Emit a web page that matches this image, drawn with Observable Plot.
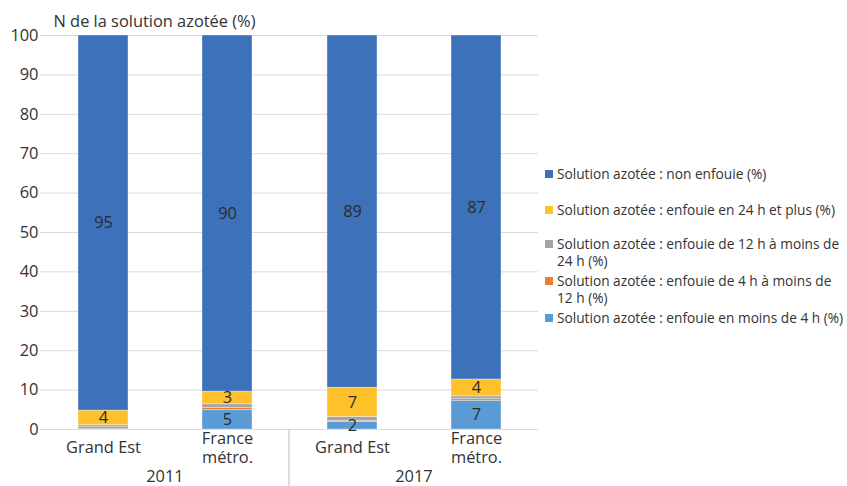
<!DOCTYPE html>
<html>
<head>
<meta charset="utf-8">
<script src="https://cdn.jsdelivr.net/npm/d3@7"></script>
<script src="https://cdn.jsdelivr.net/npm/@observablehq/plot@0.6"></script>
<style>
  body { margin: 0; background: #fff; }
  #wrap { position: relative; width: 847px; height: 486px; font-family: "Open Sans", sans-serif; color: #333; }
  .leg { position: absolute; left: 545px; width: 304px; font-size: 13.7px; line-height: 16.5px; color: #333; }
  .leg .sw { position: absolute; left: 0; top: 4px; width: 8px; height: 8px; }
  .leg .tx { margin-left: 12px; }
</style>
</head>
<body>
<div id="wrap"></div>
<script>
const years = ["2011", "2011", "2017", "2017"];
const regions = ["Grand Est", "France métro.", "Grand Est", "France métro."];
const regionLabels = ["Grand Est", "France\nmétro."];
const yearDomain = ["2011", "2017"];
const regionDomain = ["Grand Est", "France métro."];
// bottom -> top
const seriesNames = [
  "Solution azotée : enfouie en moins de 4 h (%)",
  "Solution azotée : enfouie de 4 h à moins de 12 h (%)",
  "Solution azotée : enfouie de 12 h à moins de 24 h (%)",
  "Solution azotée : enfouie en 24 h et plus (%)",
  "Solution azotée : non enfouie (%)"
];
const seriesColors = ["#5B9BD5", "#ED7D31", "#A5A5A5", "#FFC12B", "#3D72BA"];
const moins4h   = [0.2, 4.9, 1.9, 7.3];
const h4a12     = [0.4, 0.6, 0.3, 0.4];
const h12a24    = [0.5, 0.9, 1.0, 0.7];
const h24plus   = [3.7, 3.2, 7.4, 4.3];
const nonEnfouie = [95.2, 90.4, 89.4, 87.3];
const yTicks = [0, 10, 20, 30, 40, 50, 60, 70, 80, 90, 100];
const yLabel = "N de la solution azotée (%)";
// legend order (top -> bottom)
const legendOrder = [4, 3, 2, 1, 0];
const legendTops = [166, 202, 236, 273, 310];

const seriesValues = [moins4h, h4a12, h12a24, h24plus, nonEnfouie];
const rows = [];
seriesNames.forEach((s, si) => {
  years.forEach((y, i) => rows.push({year: y, region: regions[i], serie: s, value: seriesValues[si][i]}));
});
const catRows = years.map((y, i) => ({year: y, region: regions[i], label: regionLabels[regionDomain.indexOf(regions[i])]}));
const yearRows = yearDomain.map(y => ({year: y}));

const font = "'Open Sans', sans-serif";
const fs = 16.4;
const plot = Plot.plot({
  width: 847,
  height: 486,
  marginTop: 35,
  marginBottom: 57,
  marginLeft: 40,
  marginRight: 309,
  style: {fontFamily: font, fontSize: fs + "px", color: "#333", background: "transparent"},
  fx: {domain: yearDomain, padding: 0, axis: null},
  x: {domain: regionDomain, paddingInner: 0.6, paddingOuter: 0.3, axis: null},
  y: {domain: [0, 100], axis: null},
  color: {domain: seriesNames, range: seriesColors},
  marks: [
    Plot.gridY(yTicks, {stroke: "#d9d9d9", strokeOpacity: 1}),
    Plot.axisY(yTicks, {tickSize: 0, tickPadding: 2, fontSize: fs, fill: "#333", label: null}),
    Plot.barY(rows, Plot.stackY({fx: "year", x: "region", y: "value", fill: "serie", order: seriesNames, stroke: "white", strokeOpacity: 0.45, strokeWidth: 0.75})),
    Plot.text(rows, Plot.stackY({fx: "year", x: "region", y: "value", z: "serie", order: seriesNames,
      text: d => d.value >= 1.5 ? String(Math.round(d.value)) : "", fill: "#2b2b2b", fontSize: fs, lineAnchor: "middle"})),
    Plot.text(catRows, {fx: "year", x: "region", y: () => 0, text: "label", dy: 18, lineAnchor: "middle", lineHeight: 1.12, fill: "#333", fontSize: fs}),
    Plot.text(yearRows, {fx: "year", frameAnchor: "bottom", text: "year", dy: 47, lineAnchor: "middle", fill: "#333", fontSize: fs}),
    Plot.text([{year: "2011"}], {fx: "year", frameAnchor: "top-left", text: () => yLabel, dx: 13, dy: -14, lineAnchor: "middle", textAnchor: "start", fill: "#333", fontSize: fs})
  ]
});

// separator between year groups, from the library's scales
const fxs = plot.scale("fx");
const ys = plot.scale("y");
const sepX = fxs.apply("2017");
d3.select(plot).append("line")
  .attr("x1", sepX).attr("x2", sepX)
  .attr("y1", ys.apply(0)).attr("y2", 486)
  .attr("stroke", "#bdbdbd").attr("stroke-width", 1);

const wrap = document.getElementById("wrap");
wrap.appendChild(plot);

legendOrder.forEach((si, k) => {
  const div = document.createElement("div");
  div.className = "leg";
  div.style.top = legendTops[k] + "px";
  const sw = document.createElement("span");
  sw.className = "sw";
  sw.style.background = seriesColors[si];
  const tx = document.createElement("div");
  tx.className = "tx";
  tx.textContent = seriesNames[si];
  div.appendChild(sw);
  div.appendChild(tx);
  wrap.appendChild(div);
});
</script>
</body>
</html>
